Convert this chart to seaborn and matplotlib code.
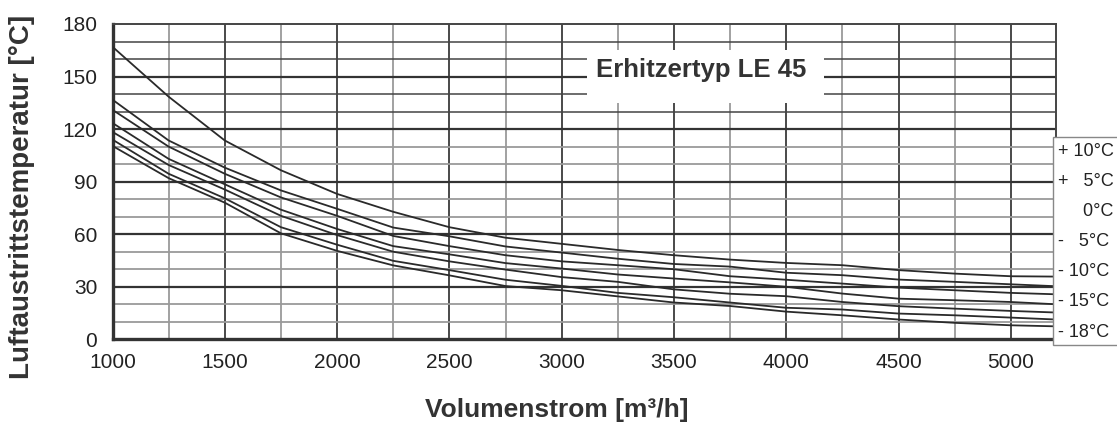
import matplotlib
matplotlib.use("Agg")
import matplotlib.pyplot as plt
import pandas as pd
import seaborn as sns
from matplotlib.patches import Rectangle

# ---- data ----
volumenstrom = [1000, 1250, 1500, 1750, 2000, 2250, 2500, 2750, 3000,
                3250, 3500, 3750, 4000, 4250, 4500, 4750, 5000, 5200]
serien = ["+ 10°C", "+   5°C", "     0°C", "-   5°C", "- 10°C", "- 15°C", "- 18°C"]
t_plus10 = [167, 138.5, 113.5, 96.5, 83, 72.8, 64, 58, 54.5, 51, 48, 45.5, 43.6, 42.3, 39.5, 37.5, 36, 35.8]
t_plus5 = [136.8, 113.5, 98, 85, 74.5, 63.8, 58.8, 53, 49.5, 46, 43, 41.5, 38, 36.6, 34.1, 32.8, 31.4, 30.3]
t_null = [131, 110, 94.5, 81, 70.5, 59, 53.2, 48, 44.5, 42.3, 40, 36, 34, 31.8, 29.5, 28, 26.5, 25.7]
t_minus5 = [123.5, 103, 88.5, 74, 63, 53.2, 48.5, 43.5, 40.4, 37, 34.7, 32.5, 30, 26.1, 23.2, 22.3, 21.3, 20]
t_minus10 = [118.4, 99.5, 85.5, 70.5, 59.5, 50, 44.5, 39.8, 35.5, 32.8, 28.5, 26, 24.6, 21.3, 18.9, 17.5, 16.2, 15.3]
t_minus15 = [114, 94.5, 80.5, 64, 54, 44.8, 39.5, 34, 30.5, 26.5, 24, 21, 18, 17, 14.7, 13.7, 12.4, 11.3]
t_minus18 = [110.4, 92, 78, 60.5, 50.5, 42.2, 36.5, 30.4, 28, 24.5, 21, 19, 15.8, 13.7, 11.3, 9.4, 8, 7.4]
x_ticks = [1000, 1500, 2000, 2500, 3000, 3500, 4000, 4500, 5000]
y_ticks = [0, 30, 60, 90, 120, 150, 180]
titel = "Erhitzertyp LE 45"
x_label = "Volumenstrom [m³/h]"
y_label = "Luftaustrittstemperatur [°C]"

werte = [t_plus10, t_plus5, t_null, t_minus5, t_minus10, t_minus15, t_minus18]
df = pd.concat(
    [pd.DataFrame({"V": volumenstrom, "T": w, "Serie": s}) for s, w in zip(serien, werte)],
    ignore_index=True,
)

sns.set_theme(style="white")
plt.rcParams["font.family"] = ["Liberation Sans", "DejaVu Sans"]

W, H = 1117, 432
fig = plt.figure(figsize=(W / 100, H / 100), dpi=100)
ax = fig.add_axes([112.5 / W, 1 - 339.3 / H, (1055.7 - 112.5) / W, (339.3 - 24) / H])

ax.set_xlim(1000, 5200)
ax.set_ylim(0, 180)

# grid
ax.set_xticks(x_ticks)
ax.set_yticks(y_ticks)
ax.grid(False)
for v in range(1250, 5200, 250):
    col = "#3a3a3a" if v % 500 == 0 else "#9a9a9a"
    ax.axvline(v, color=col, lw=1.3, zorder=1)
for t in range(10, 180, 10):
    if t % 30 == 0:
        col, lw = "#333333", 1.6
    elif t > 120:
        col, lw = "#444444", 1.1
    else:
        col, lw = "#9a9a9a", 1.3
    ax.axhline(t, color=col, lw=lw, zorder=1)

sns.lineplot(data=df, x="V", y="T", hue="Serie", hue_order=serien,
             palette=["#2a2a2a"] * len(serien), legend=False, ax=ax,
             linewidth=1.3, zorder=4)

# spines / ticks
for side in ["left", "bottom"]:
    ax.spines[side].set_color("#333333")
    ax.spines[side].set_linewidth(2.4)
for side in ["top", "right"]:
    ax.spines[side].set_color("#444444")
    ax.spines[side].set_linewidth(1.4)
ax.tick_params(axis="both", which="major", direction="out", length=5,
               width=1.8, color="#333333", labelsize=15, labelcolor="#222222")
ax.tick_params(axis="x", pad=5)
ax.tick_params(axis="y", pad=6)
ax.tick_params(which="minor", length=0)
ax.set_xlabel("")
ax.set_ylabel("")

# title box
ax.add_patch(Rectangle((3115, 135), 1054, 30, facecolor="white", edgecolor="none", zorder=3))
ax.text(3620, 150, titel, ha="center", va="baseline", fontsize=18.5,
        fontweight="bold", color="#333333", zorder=5)

# axis labels
fig.text(22 / W, 1 - 197 / H, y_label, rotation=90, ha="center", va="center",
         fontsize=20, fontweight="bold", color="#333333")
fig.text(557 / W, 1 - 410 / H, x_label, ha="center", va="center",
         fontsize=19, fontweight="bold", color="#333333")

# legend box (text only)
fig.patches.append(Rectangle((1052.7 / W, 1 - 345 / H), 0.2, (345 - 136.7) / H,
                             transform=fig.transFigure, facecolor="white",
                             edgecolor="#888888", lw=1.0, zorder=5))
for i, s in enumerate(serien):
    fig.text(1058 / W, 1 - (151 + i * 30.2) / H, s, ha="left", va="center",
             fontsize=13, color="#222222", zorder=6)

fig.savefig("out.png", dpi=100)
